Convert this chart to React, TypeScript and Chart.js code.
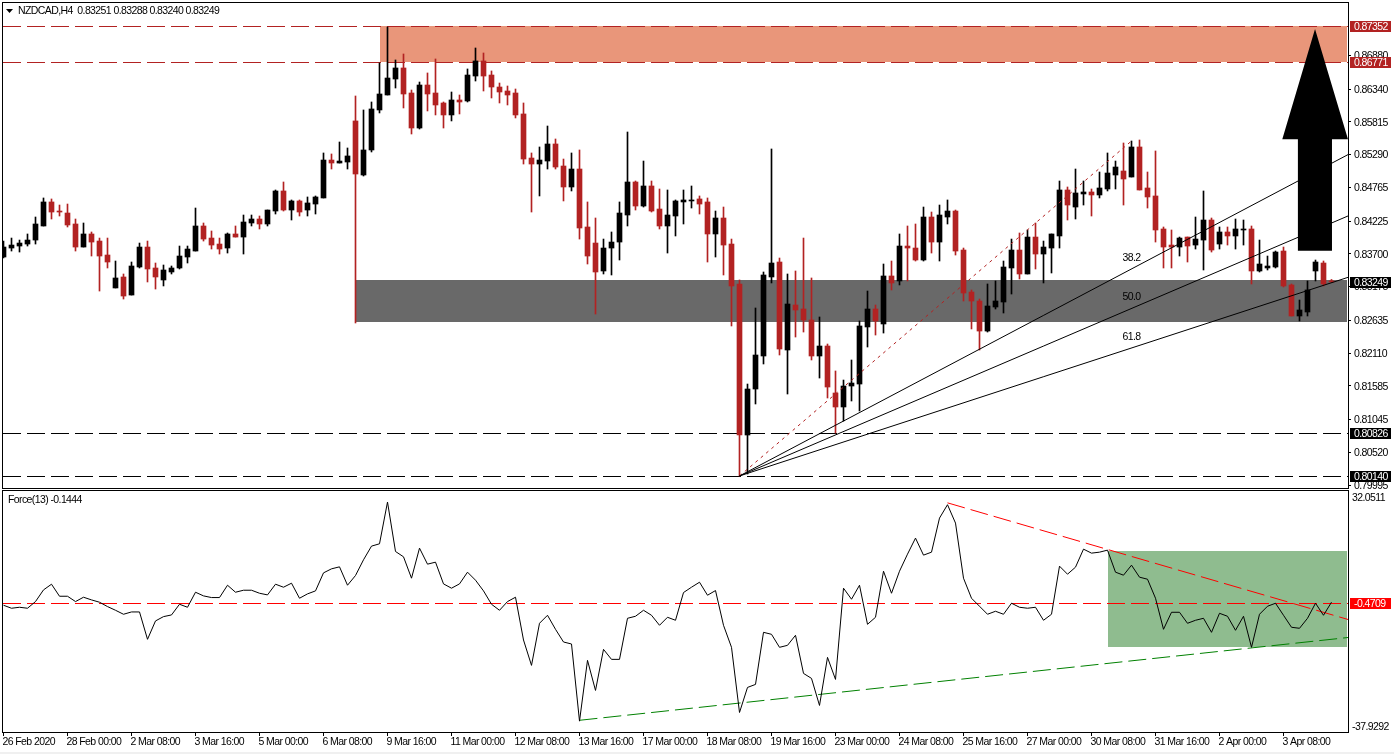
import { useEffect, useRef } from 'react'
import { Chart, registerables } from 'chart.js'

Chart.register(...registerables)

// NZDCAD H4 candles, oldest first
const opens = [0.83648,0.83792,0.83824,0.83856,0.83920,0.84145,0.84530,0.84385,0.84353,0.84177,0.83808,0.84017,0.83904,0.83680,0.83152,0.83328,0.83039,0.83488,0.83808,0.83472,0.83280,0.83408,0.83472,0.83648,0.83744,0.84145,0.83952,0.83856,0.83792,0.84017,0.83968,0.84193,0.84257,0.84177,0.84385,0.84706,0.84401,0.84546,0.84401,0.84497,0.84594,0.85202,0.85154,0.85170,0.85828,0.84962,0.85363,0.86004,0.86244,0.86500,0.86677,0.86276,0.85715,0.86404,0.86276,0.86116,0.85924,0.86164,0.86148,0.86548,0.86789,0.86564,0.86372,0.86308,0.86276,0.85940,0.85234,0.85138,0.85186,0.85459,0.85106,0.84770,0.85058,0.84129,0.83872,0.83424,0.83792,0.83888,0.84321,0.84850,0.84465,0.84786,0.84417,0.84145,0.84305,0.84530,0.84546,0.84578,0.84530,0.84017,0.84273,0.83856,0.83216,0.80796,0.81533,0.82062,0.83328,0.83568,0.82158,0.82879,0.82815,0.82639,0.82062,0.82222,0.81469,0.81245,0.81581,0.81613,0.82527,0.82815,0.82575,0.83344,0.83264,0.83824,0.83792,0.83600,0.84289,0.83888,0.84289,0.84385,0.83760,0.83087,0.82943,0.82462,0.82847,0.82927,0.83472,0.83760,0.83376,0.83968,0.83696,0.83792,0.83985,0.84722,0.84449,0.84658,0.84690,0.84642,0.84738,0.84962,0.85026,0.84930,0.85411,0.84754,0.84626,0.84097,0.83840,0.83808,0.83968,0.83840,0.83920,0.84241,0.83856,0.84049,0.83985,0.84081,0.84097,0.83424,0.83472,0.83488,0.83744,0.83200,0.82703,0.82767,0.83424,0.83552,0.83251]
const highs = [0.83904,0.83952,0.83920,0.84017,0.84289,0.84594,0.84578,0.84481,0.84497,0.84257,0.84193,0.84049,0.83952,0.83952,0.83584,0.83376,0.83568,0.83872,0.83904,0.83552,0.83520,0.83504,0.83824,0.83824,0.84433,0.84193,0.84065,0.83952,0.84033,0.84145,0.84321,0.84321,0.84305,0.84401,0.84722,0.84850,0.84562,0.84562,0.84610,0.84626,0.85315,0.85299,0.85491,0.85395,0.86228,0.86004,0.86132,0.86757,0.87333,0.86805,0.86901,0.86324,0.86452,0.86597,0.86821,0.86132,0.86292,0.86244,0.86661,0.86997,0.86917,0.86629,0.86436,0.86388,0.86340,0.86116,0.85315,0.85411,0.85747,0.85539,0.85218,0.85315,0.85363,0.84530,0.84273,0.83936,0.84049,0.84530,0.85651,0.84866,0.85186,0.84866,0.84738,0.84722,0.84562,0.84722,0.84786,0.84626,0.84594,0.84385,0.84449,0.83936,0.83280,0.81613,0.82831,0.83408,0.85379,0.83632,0.83376,0.83424,0.83952,0.83312,0.82687,0.82254,0.81822,0.81677,0.81998,0.82623,0.83103,0.82879,0.83536,0.83584,0.84017,0.84145,0.84177,0.84449,0.84369,0.84481,0.84562,0.84401,0.83792,0.83120,0.82975,0.83216,0.83264,0.83584,0.83936,0.84033,0.84081,0.84193,0.83904,0.84017,0.84866,0.84770,0.85058,0.84866,0.84738,0.85010,0.85315,0.85186,0.85475,0.85507,0.85523,0.85010,0.85347,0.84129,0.84081,0.83968,0.83968,0.84289,0.84706,0.84273,0.84129,0.84129,0.84257,0.84241,0.84145,0.83920,0.83664,0.83744,0.83808,0.83216,0.82959,0.83264,0.83600,0.83584,0.83288]
const lows = [0.83632,0.83744,0.83728,0.83824,0.83856,0.84145,0.84257,0.84305,0.84129,0.83744,0.83808,0.83664,0.83103,0.83472,0.83152,0.82975,0.83039,0.83472,0.83248,0.83135,0.83184,0.83376,0.83456,0.83552,0.83744,0.83904,0.83776,0.83696,0.83712,0.83968,0.83696,0.84145,0.84097,0.84145,0.84337,0.84385,0.84241,0.84305,0.84305,0.84337,0.84594,0.85058,0.85154,0.85058,0.82591,0.84946,0.85331,0.85956,0.86244,0.86356,0.86036,0.85619,0.85699,0.85988,0.85924,0.85715,0.85828,0.85940,0.86132,0.86468,0.86308,0.86196,0.86116,0.86084,0.85876,0.85138,0.84369,0.84626,0.85058,0.85058,0.84546,0.84706,0.83936,0.83536,0.82735,0.83376,0.83360,0.83600,0.84145,0.84401,0.84449,0.84369,0.84097,0.83712,0.83985,0.84177,0.84433,0.84337,0.83568,0.83648,0.83360,0.82543,0.80139,0.80171,0.81293,0.81934,0.83232,0.82078,0.81453,0.82366,0.82446,0.81998,0.81709,0.81389,0.80828,0.81020,0.81341,0.81181,0.82206,0.82398,0.82430,0.83120,0.83200,0.83264,0.83584,0.83584,0.83712,0.83584,0.84177,0.83680,0.82943,0.82495,0.82158,0.82446,0.82815,0.82751,0.83055,0.83296,0.83376,0.83456,0.83232,0.83392,0.83792,0.84241,0.84257,0.84481,0.84305,0.84594,0.84706,0.84738,0.84481,0.84930,0.84722,0.84433,0.83888,0.83472,0.83472,0.83664,0.83568,0.83776,0.83440,0.83728,0.83776,0.83840,0.83776,0.83840,0.83216,0.83408,0.83440,0.83472,0.83168,0.82703,0.82623,0.82703,0.83264,0.83184,0.83240]
const closes = [0.83808,0.83840,0.83872,0.83920,0.84177,0.84530,0.84369,0.84369,0.84161,0.83808,0.84017,0.83888,0.83664,0.83568,0.83312,0.83023,0.83504,0.83808,0.83456,0.83328,0.83440,0.83472,0.83664,0.83776,0.84145,0.83936,0.83840,0.83776,0.84017,0.83968,0.84209,0.84257,0.84177,0.84401,0.84706,0.84401,0.84546,0.84369,0.84514,0.84610,0.85202,0.85154,0.85186,0.85267,0.84978,0.85363,0.86020,0.86260,0.86516,0.86677,0.86260,0.85715,0.86404,0.86260,0.86084,0.85924,0.86164,0.86132,0.86564,0.86789,0.86548,0.86372,0.86292,0.86244,0.85924,0.85218,0.85138,0.85202,0.85459,0.85090,0.84770,0.85058,0.84113,0.83664,0.83408,0.83792,0.83888,0.84353,0.84850,0.84465,0.84786,0.84385,0.84145,0.84321,0.84546,0.84562,0.84562,0.84497,0.84017,0.84273,0.83840,0.83184,0.80796,0.81533,0.82078,0.83360,0.83552,0.82174,0.82895,0.82799,0.82639,0.82062,0.82222,0.81565,0.81245,0.81581,0.81629,0.82543,0.82815,0.82623,0.83344,0.83232,0.83824,0.83792,0.83600,0.84289,0.83888,0.84321,0.84385,0.83744,0.83071,0.82943,0.82462,0.82863,0.82943,0.83488,0.83760,0.83376,0.83968,0.83696,0.83808,0.84017,0.84722,0.84481,0.84674,0.84690,0.84642,0.84754,0.84994,0.85090,0.84898,0.85411,0.84722,0.84610,0.84081,0.83808,0.83808,0.83952,0.83824,0.83936,0.84241,0.83760,0.84049,0.83985,0.84097,0.84097,0.83424,0.83536,0.83504,0.83728,0.83184,0.82703,0.82799,0.83120,0.83568,0.83216,0.83249]
// Force(13), same bars
const force = [-1.08,-2.00,-1.70,-2.00,0.04,3.61,5.35,1.67,1.67,0.04,1.37,0.55,-0.16,-1.49,-2.62,-3.84,-3.13,-3.13,-11.50,-5.88,-4.56,-4.05,-0.78,-1.70,2.90,1.78,1.27,1.27,5.04,2.90,3.51,3.51,2.59,2.08,5.35,4.43,5.66,1.06,2.39,3.31,8.82,10.05,10.66,5.04,8.01,12.81,16.99,17.71,30.47,15.36,13.73,7.19,16.38,11.48,12.09,5.45,4.13,5.45,9.03,6.58,3.31,-0.78,-2.62,0.04,1.37,-11.71,-19.47,-6.60,-4.15,-8.44,-12.32,-12.93,-36.52,-17.93,-27.13,-14.57,-17.63,-17.63,-5.07,-4.45,-2.62,-4.15,-7.21,-4.76,-5.68,2.80,4.43,5.96,1.98,3.41,-7.21,-13.95,-33.87,-26.21,-25.29,-9.36,-9.97,-13.95,-13.34,-10.27,-21.92,-23.45,-31.72,-17.02,-23.76,4.13,0.76,5.04,-6.91,-4.76,9.33,2.59,9.33,14.54,19.45,14.24,15.15,25.57,29.66,24.04,7.19,1.06,-1.39,-3.84,-2.92,-3.84,-0.47,-1.70,-2.00,-1.70,-5.68,-3.84,10.87,8.41,10.56,16.07,14.85,15.15,15.77,9.03,8.11,11.17,7.50,6.88,1.06,-8.44,-3.23,-3.23,-6.60,-5.68,-5.07,-9.36,-3.54,-4.45,-8.74,-4.45,-13.95,-3.84,-1.39,-0.47,-4.15,-7.82,-8.13,-5.07,-0.47,-4.15,-0.1444]

const priceTicks = [0.8688,0.8634,0.85815,0.8529,0.84765,0.84225,0.837,0.83175,0.82635,0.8211,0.81585,0.81045,0.8052,0.79995]
const forceTicks = [32.0511,-37.9292]
const timeLabels = ['26 Feb 2020','28 Feb 00:00','2 Mar 08:00','3 Mar 16:00','5 Mar 00:00','6 Mar 08:00','9 Mar 16:00','11 Mar 00:00','12 Mar 08:00','13 Mar 16:00','17 Mar 00:00','18 Mar 08:00','19 Mar 16:00','23 Mar 00:00','24 Mar 08:00','25 Mar 16:00','27 Mar 00:00','30 Mar 08:00','31 Mar 16:00','2 Apr 00:00','3 Apr 08:00']
const barsPerLabel = 8

const resistance = [0.87352, 0.86771]
const support = [0.80826, 0.8014]
const lastPrice = 0.83249
const forceLevel = -0.4709
const fibLevels = [0.382, 0.5, 0.618]

const RED = '#B22222'
const FONT = '"Liberation Sans", sans-serif'
const FONT_SIZE = 10.5
const X_MIN = -0.0625
const X_MAX = 168.0625
const ZONE_END = 167.94

const axisFont = { family: FONT, size: FONT_SIZE }

function fixedWidth(scale: any) {
  scale.width = 46
  scale.paddingTop = scale.paddingBottom = scale.paddingLeft = scale.paddingRight = 0
}

function band(c: any, fromIndex: number, top: number, bottom: number, color: string) {
  const { x, y } = c.scales
  const x0 = Math.round(x.getPixelForValue(fromIndex))
  const y0 = Math.round(y.getPixelForValue(top))
  const y1 = Math.round(y.getPixelForValue(bottom))
  c.ctx.fillStyle = color
  c.ctx.fillRect(x0, y0, Math.round(x.getPixelForValue(ZONE_END)) - x0, y1 - y0)
}

function dashedLevel(c: any, value: number, color: string) {
  const { ctx, chartArea } = c
  const y = Math.round(c.scales.y.getPixelForValue(value)) + 0.5
  ctx.save()
  ctx.strokeStyle = color
  ctx.lineWidth = 1
  ctx.setLineDash([18, 6])
  ctx.beginPath()
  ctx.moveTo(chartArea.left, y)
  ctx.lineTo(chartArea.right, y)
  ctx.stroke()
  ctx.restore()
}

function frame(c: any) {
  const { ctx, chartArea: a } = c
  ctx.save()
  ctx.strokeStyle = '#000'
  ctx.lineWidth = 1
  ctx.setLineDash([])
  ctx.strokeRect(2.5, a.top - 0.5, a.right - 2, a.bottom - a.top + 1)
  ctx.restore()
}

function priceTag(c: any, value: number, text: string, bg: string) {
  const { ctx } = c
  const y = Math.round(c.scales.y.getPixelForValue(value))
  ctx.fillStyle = bg
  ctx.fillRect(1350, y - 5, 41, 11)
  ctx.fillStyle = '#fff'
  ctx.font = `${FONT_SIZE}px ${FONT}`
  ctx.textAlign = 'left'
  ctx.textBaseline = 'middle'
  ctx.fillText(text, 1354, y + 1)
}

// the terminal font runs narrower than anything installed
const tightText = {
  id: 'tightText',
  beforeDraw(c: any) {
    c.ctx.letterSpacing = '-0.6px'
  },
}

const mainBack = {
  id: 'mainBack',
  beforeDatasetsDraw(c: any) {
    band(c, 47, resistance[0], resistance[1], '#E9967A')
    band(c, 44, 0.8328, 0.82607, '#696969')
    resistance.forEach(v => dashedLevel(c, v, RED))
    support.forEach(v => dashedLevel(c, v, '#000'))
  },
}

const mainFront = {
  id: 'mainFront',
  afterDatasetsDraw(c: any) {
    const { ctx, scales: { x, y } } = c
    // fan labels sit on the peak bar
    ctx.fillStyle = '#000'
    ctx.font = `${FONT_SIZE}px ${FONT}`
    ctx.textAlign = 'center'
    ctx.textBaseline = 'middle'
    ;[['38.2', 0.83632], ['50.0', 0.83007], ['61.8', 0.82366]].forEach(([t, v]) => {
      ctx.fillText(t, x.getPixelForValue(141), y.getPixelForValue(v) + 0.5)
    })
    // big up arrow
    ctx.beginPath()
    ctx.moveTo(x.getPixelForValue(163.94), y.getPixelForValue(0.87301))
    ctx.lineTo(x.getPixelForValue(168.06), y.getPixelForValue(0.85534))
    ctx.lineTo(x.getPixelForValue(166.06), y.getPixelForValue(0.85534))
    ctx.lineTo(x.getPixelForValue(166.06), y.getPixelForValue(0.83749))
    ctx.lineTo(x.getPixelForValue(161.8), y.getPixelForValue(0.83749))
    ctx.lineTo(x.getPixelForValue(161.8), y.getPixelForValue(0.85534))
    ctx.lineTo(x.getPixelForValue(159.85), y.getPixelForValue(0.85534))
    ctx.closePath()
    ctx.fill()
  },
  afterDraw(c: any) {
    const { ctx } = c
    frame(c)
    resistance.forEach(v => priceTag(c, v, v.toFixed(5), RED))
    support.forEach(v => priceTag(c, v, v.toFixed(5), '#000'))
    priceTag(c, lastPrice, lastPrice.toFixed(5), '#000')
    ctx.fillStyle = '#000'
    ctx.beginPath()
    ctx.moveTo(6, 9)
    ctx.lineTo(13, 9)
    ctx.lineTo(9.5, 13)
    ctx.fill()
    ctx.font = `${FONT_SIZE}px ${FONT}`
    ctx.textAlign = 'left'
    ctx.textBaseline = 'middle'
    ctx.fillText('NZDCAD,H4  0.83251 0.83288 0.83240 0.83249', 18, 11.5)
  },
}

const forceBack = {
  id: 'forceBack',
  beforeDatasetsDraw(c: any) {
    band(c, 138, 15.6, -13.7, '#8FBC8F')
    dashedLevel(c, forceLevel, '#FF0000')
  },
  afterDraw(c: any) {
    const { ctx } = c
    frame(c)
    const y = Math.round(c.scales.y.getPixelForValue(forceLevel))
    ctx.fillStyle = '#FF0000'
    ctx.fillRect(1350, y - 5, 41, 11)
    ctx.fillStyle = '#fff'
    ctx.font = `${FONT_SIZE}px ${FONT}`
    ctx.textAlign = 'left'
    ctx.textBaseline = 'middle'
    ctx.fillText(forceLevel.toFixed(4), 1354, y + 1)
    ctx.fillStyle = '#000'
    ctx.fillText('Force(13) -0.1444', 8, 11)
  },
}

function lineSet(points: { x: number; y: number }[], color: string, dash: number[] = []) {
  return { type: 'line', data: points, borderColor: color, borderWidth: 1, borderDash: dash, pointRadius: 0, tension: 0, order: 0 }
}

function fanLine(level: number) {
  const anchor = support[1], peak = highs[141]
  const atPeak = peak - level * (peak - anchor)
  const atEdge = anchor + ((atPeak - anchor) * (X_MAX - 92)) / (141 - 92)
  return lineSet([{ x: 92, y: anchor }, { x: X_MAX, y: atEdge }], '#000')
}

export default function App() {
  const mainRef = useRef<HTMLCanvasElement>(null)
  const forceRef = useRef<HTMLCanvasElement>(null)

  useEffect(() => {
    if (!mainRef.current || !forceRef.current) return
    const colors = closes.map((v, i) => (v >= opens[i] ? '#000' : RED))
    const baseOptions: any = {
      responsive: false,
      animation: false,
      devicePixelRatio: 1,
      events: [],
      plugins: { legend: { display: false }, tooltip: { enabled: false } },
    }

    const main = new Chart(mainRef.current, {
      type: 'bar',
      data: {
        datasets: [
          {
            data: lows.map((v, i) => ({ x: i, y: [v, highs[i]] })),
            backgroundColor: colors,
            barThickness: 1,
            grouped: false,
            order: 2,
          },
          {
            data: opens.map((v, i) => ({ x: i, y: [v, closes[i]] })),
            backgroundColor: colors,
            barThickness: 5,
            minBarLength: 1,
            grouped: false,
            order: 1,
          },
          ...fibLevels.map(fanLine),
          lineSet([{ x: 92, y: support[1] }, { x: 141, y: highs[141] }], RED, [3, 4]),
        ] as any,
      },
      options: {
        ...baseOptions,
        layout: { padding: { left: 3, top: 3, bottom: 1, right: 0 } },
        scales: {
          x: { type: 'linear', min: X_MIN, max: X_MAX, display: false, offset: false, grid: { offset: false } },
          y: {
            position: 'right',
            min: 0.79947,
            max: 0.87718,
            afterFit: fixedWidth,
            afterBuildTicks: (axis: any) => {
              axis.ticks = priceTicks.map(value => ({ value }))
            },
            border: { display: false },
            grid: { drawOnChartArea: false, tickLength: 3, tickColor: '#000' },
            ticks: {
              autoSkip: false,
              padding: 3,
              labelOffset: 1,
              color: '#000',
              font: axisFont,
              callback: (v: any) => Number(v).toFixed(5),
            },
          },
        },
      },
      plugins: [tightText, mainBack, mainFront],
    })

    const indicator = new Chart(forceRef.current, {
      type: 'line',
      data: {
        datasets: [
          lineSet(force.map((y, x) => ({ x, y })), '#000'),
          lineSet([{ x: 118, y: 30.23 }, { x: X_MAX, y: -5.43 }], '#FF0000', [18, 6]),
          lineSet([{ x: 72, y: -36.26 }, { x: X_MAX, y: -10.95 }], '#008000', [18, 6]),
        ] as any,
      },
      options: {
        ...baseOptions,
        layout: { padding: { left: 3, top: 2, bottom: 0, right: 0 } },
        scales: {
          x: {
            type: 'linear',
            min: X_MIN,
            max: X_MAX,
            afterFit: (scale: any) => {
              scale.height = 22
              scale.paddingLeft = scale.paddingRight = 0
            },
            afterBuildTicks: (axis: any) => {
              axis.ticks = timeLabels.map((_, i) => ({ value: i * barsPerLabel }))
            },
            border: { display: false },
            grid: { drawOnChartArea: false, tickLength: 4, tickColor: '#000' },
            ticks: {
              autoSkip: false,
              maxRotation: 0,
              align: 'start',
              padding: 0,
              labelOffset: -1,
              color: '#000',
              font: axisFont,
              callback: (v: any) => timeLabels[Number(v) / barsPerLabel],
            },
          },
          y: {
            position: 'right',
            min: -39.84,
            max: 33.85,
            afterFit: fixedWidth,
            afterBuildTicks: (axis: any) => {
              axis.ticks = forceTicks.map(value => ({ value }))
            },
            border: { display: false },
            grid: { display: true, drawOnChartArea: false, drawTicks: false },
            ticks: { autoSkip: false, padding: 4, labelOffset: 1, color: '#000', font: axisFont, callback: (v: any) => Number(v).toFixed(4) },
          },
        },
      },
      plugins: [tightText, forceBack],
    })

    return () => {
      main.destroy()
      indicator.destroy()
    }
  }, [])

  return (
    <div style={{ position: 'absolute', left: 0, top: 0, width: 1394, height: 754, overflow: 'hidden', background: '#fff' }}>
      <canvas ref={mainRef} width={1394} height={489} style={{ position: 'absolute', left: 0, top: 0 }} />
      <canvas ref={forceRef} width={1394} height={265} style={{ position: 'absolute', left: 0, top: 489 }} />
      <div style={{ position: 'absolute', left: 0, top: 752, width: 1394, height: 2, background: '#f0f0f0' }} />
    </div>
  )
}
